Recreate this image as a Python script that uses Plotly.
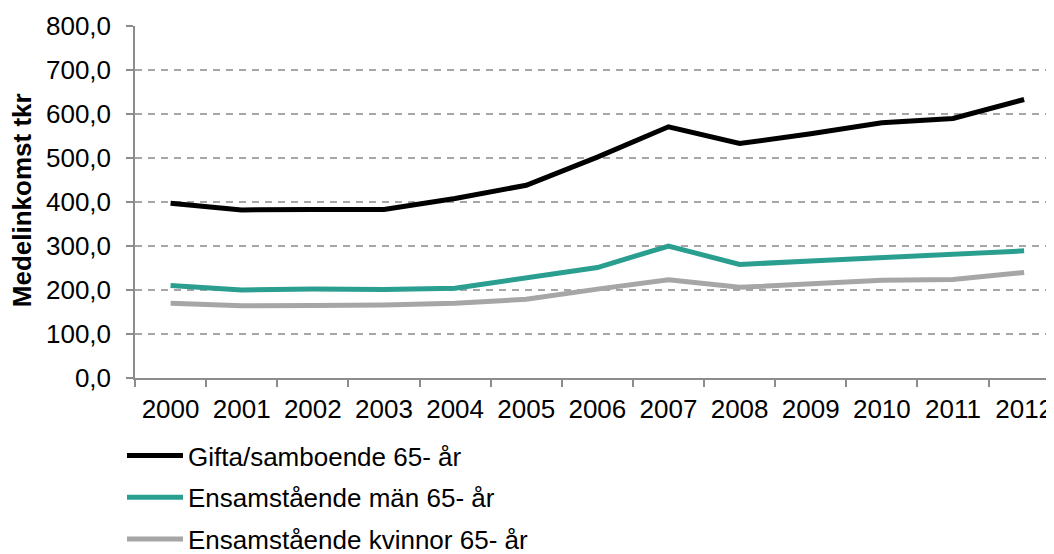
import plotly.graph_objects as go

years = ["2000", "2001", "2002", "2003", "2004", "2005", "2006",
         "2007", "2008", "2009", "2010", "2011", "2012"]
gifta = [397, 382, 383, 383, 408, 438, 502, 571, 533, 555, 580, 590, 633]
man = [210, 200, 202, 201, 204, 227, 251, 300, 258, 266, 274, 282, 289]
kvinnor = [170, 164, 165, 166, 170, 179, 202, 223, 206, 215, 222, 224, 240]
names = ["Gifta/samboende 65- år", "Ensamstående män 65- år",
         "Ensamstående kvinnor 65- år"]
colors = ["#000000", "#2A9E8F", "#A6A6A6"]
ytickvals = [0, 100, 200, 300, 400, 500, 600, 700, 800]
yticktext = ["0,0", "100,0", "200,0", "300,0", "400,0", "500,0", "600,0",
             "700,0", "800,0"]
ytitle = "Medelinkomst tkr"

FONT = "Liberation Sans, Arial, sans-serif"
W, H = 1046, 546

fig = go.Figure()
for i, (name, vals, col) in enumerate(zip(names, [gifta, man, kvinnor], colors)):
    fig.add_trace(go.Scatter(
        x=years, y=vals, name=name, mode="lines",
        line=dict(color=col, width=5),
        legendgroup=f"g{i}",
    ))

fig.update_layout(
    width=W, height=H,
    margin=dict(l=127, r=0, t=18, b=176, autoexpand=False),
    paper_bgcolor="white", plot_bgcolor="white",
    font=dict(family=FONT, size=26, color="#000000"),
    showlegend=True,
    legend=dict(
        orientation="v", xref="container", yref="container",
        x=114 / W, xanchor="left", y=1 - 424 / H, yanchor="top",
        font=dict(size=26, family=FONT), tracegroupgap=5, itemwidth=56,
        bgcolor="rgba(0,0,0,0)", borderwidth=0,
    ),
    annotations=[dict(
        text=f"<b>{ytitle}</b>", textangle=-90, showarrow=False,
        xref="paper", yref="paper", x=-0.123, y=0.505,
        xanchor="center", yanchor="middle",
        font=dict(size=26, family=FONT, color="#000000"),
    )],
)
fig.update_xaxes(
    type="category", range=[-0.5, 12.42], automargin=False,
    tickson="boundaries", ticks="outside", ticklen=7, tickwidth=1.5,
    tickcolor="#8C8C8C", showline=True, linecolor="#8C8C8C", linewidth=1.5,
    showgrid=False, zeroline=False, ticklabelstandoff=7,
    tickfont=dict(size=26, family=FONT),
)
fig.update_yaxes(
    range=[0, 800], tickvals=ytickvals, ticktext=yticktext, automargin=False,
    ticks="outside", ticklen=7, tickwidth=1.5, tickcolor="#8C8C8C",
    showline=True, linecolor="#8C8C8C", linewidth=1.5,
    showgrid=True, gridcolor="#A6A6A6", gridwidth=1.5, griddash="7px,6px",
    zeroline=False, ticklabelstandoff=10,
    tickfont=dict(size=26, family=FONT),
)

fig.write_html("out.html")
